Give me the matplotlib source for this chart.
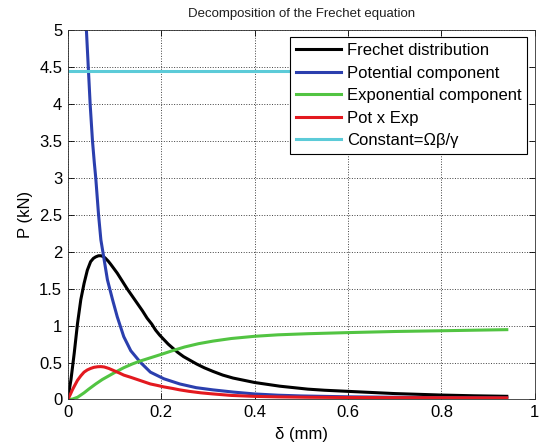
import matplotlib.pyplot as plt
import numpy as np

plt.rcParams['font.family'] = ['Liberation Sans', 'DejaVu Sans']

# values (delta in mm, P in kN)
frechet_x = [0, 0.007, 0.014, 0.021, 0.028, 0.035, 0.042, 0.049, 0.055, 0.06,
             0.066, 0.071, 0.076, 0.081, 0.087, 0.092, 0.099, 0.106, 0.116, 0.127,
             0.138, 0.149, 0.16, 0.17, 0.18, 0.188, 0.197, 0.206, 0.215, 0.224,
             0.235, 0.248, 0.262, 0.276, 0.292, 0.311, 0.332, 0.354, 0.377, 0.4,
             0.427, 0.454, 0.484, 0.514, 0.55, 0.6, 0.65, 0.7, 0.75, 0.8,
             0.87, 0.94]
frechet_y = [0, 0.27, 0.63, 1.03, 1.35, 1.57, 1.75, 1.865, 1.91, 1.93,
             1.945, 1.945, 1.935, 1.91, 1.87, 1.83, 1.77, 1.71, 1.61, 1.5,
             1.4, 1.3, 1.2, 1.1, 1.02, 0.94, 0.87, 0.81, 0.75, 0.7,
             0.64, 0.58, 0.53, 0.48, 0.43, 0.38, 0.33, 0.29, 0.26, 0.23,
             0.205, 0.18, 0.16, 0.14, 0.125, 0.11, 0.095, 0.08, 0.07, 0.06,
             0.05, 0.043]

potential_x = [0.04, 0.044, 0.048, 0.053, 0.057, 0.06, 0.063, 0.066, 0.071, 0.077,
               0.085, 0.096, 0.106, 0.12, 0.135, 0.156, 0.177, 0.206, 0.24, 0.275,
               0.311, 0.355, 0.4, 0.45, 0.5, 0.6, 0.7, 0.8, 0.94]
potential_y = [5.0, 4.5, 4.0, 3.5, 3.2, 3.0, 2.75, 2.5, 2.16, 1.93,
               1.62, 1.35, 1.12, 0.85, 0.66, 0.5, 0.37, 0.28, 0.21, 0.16,
               0.13, 0.1, 0.075, 0.058, 0.048, 0.036, 0.03, 0.025, 0.02]

expo_x = [0, 0.01, 0.021, 0.028, 0.035, 0.045, 0.06, 0.074, 0.088, 0.102,
          0.12, 0.138, 0.155, 0.18, 0.2, 0.224, 0.25, 0.28, 0.311, 0.35,
          0.4, 0.45, 0.514, 0.6, 0.7, 0.8, 0.94]
expo_y = [0, 0.005, 0.03, 0.06, 0.09, 0.14, 0.21, 0.27, 0.32, 0.37,
          0.43, 0.48, 0.52, 0.57, 0.61, 0.66, 0.71, 0.755, 0.79, 0.825,
          0.855, 0.875, 0.89, 0.905, 0.92, 0.93, 0.945]

prod_x = [0, 0.005, 0.01, 0.015, 0.021, 0.028, 0.035, 0.042, 0.049, 0.056,
          0.064, 0.071, 0.078, 0.088, 0.099, 0.11, 0.12, 0.135, 0.149, 0.163,
          0.177, 0.192, 0.206, 0.224, 0.24, 0.26, 0.285, 0.311, 0.35, 0.4,
          0.45, 0.514, 0.6, 0.7, 0.8, 0.94]
prod_y = [0, 0.06, 0.13, 0.19, 0.26, 0.32, 0.37, 0.4, 0.42, 0.435,
          0.443, 0.445, 0.44, 0.42, 0.39, 0.36, 0.33, 0.3, 0.27, 0.24,
          0.21, 0.19, 0.17, 0.15, 0.13, 0.11, 0.09, 0.075, 0.055, 0.042,
          0.035, 0.03, 0.027, 0.025, 0.024, 0.022]

const_x = [0, 0.94]
const_y = [4.45, 4.45]

fig = plt.figure(figsize=(5.4, 4.47), dpi=100)
ax = fig.add_axes([0.1254, 0.1063, 0.865, 0.8266])

lw = 2.2
ax.plot(frechet_x, frechet_y, color='#000000', lw=lw, label='Frechet distribution')
ax.plot(potential_x, potential_y, color='#2b3fae', lw=lw, label='Potential component')
ax.plot(expo_x, expo_y, color='#52c442', lw=lw, label='Exponential component')
ax.plot(prod_x, prod_y, color='#e3191f', lw=lw, label='Pot x Exp')
ax.plot(const_x, const_y, color='#5ccbd8', lw=lw, label='Constant=Ωβ/γ')

ax.set_xlim(0, 1)
ax.set_ylim(0, 5)
ax.set_xticks(np.arange(0, 1.01, 0.2))
ax.set_xticklabels(['0', '0.2', '0.4', '0.6', '0.8', '1'])
ax.set_yticks(np.arange(0, 5.01, 0.5))
ax.set_yticklabels(['0', '0.5', '1', '1.5', '2', '2.5', '3', '3.5', '4', '4.5', '5'])
ax.tick_params(direction='in', top=True, right=True, labelsize=12, length=4, width=0.6, pad=4)
ax.grid(True, ls=':', color='#404040', lw=0.7)
for s in ax.spines.values():
    s.set_linewidth(0.6)
    s.set_color('#303030')

ax.set_xlabel('δ (mm)', fontsize=12, labelpad=5)
ax.set_ylabel('P (kN)', fontsize=12, labelpad=4)
ax.set_title('Decomposition of the Frechet equation', fontsize=9.5, pad=9, color='#202020')

leg = ax.legend(loc='upper right', fontsize=12, handlelength=2.7, labelspacing=0.45,
                borderaxespad=0.45, fancybox=False, framealpha=1, borderpad=0.35,
                handletextpad=0.35)
leg.get_frame().set_edgecolor('#000000')
leg.get_frame().set_linewidth(0.8)

fig.savefig('out.png', dpi=100)
